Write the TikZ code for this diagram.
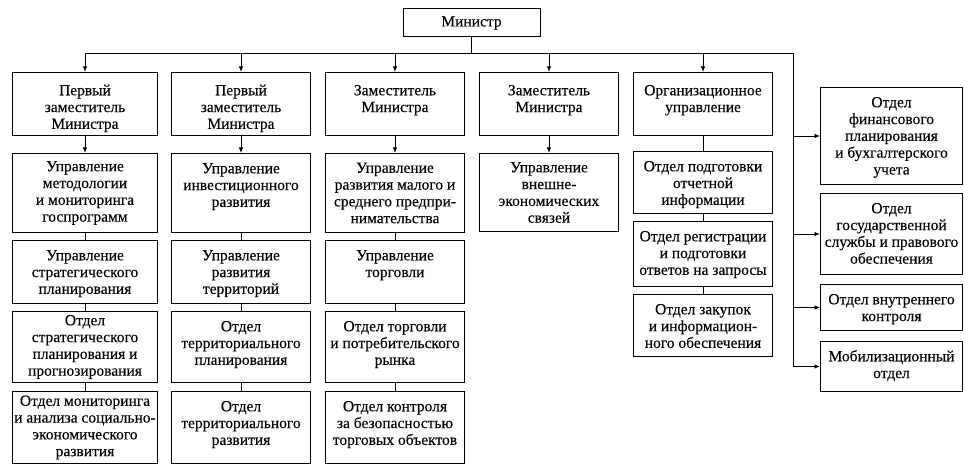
\documentclass[tikz,border=0pt]{standalone}
\usepackage{fontspec}
\setmainfont{Liberation Serif}[FakeBold=0.2]
\usetikzlibrary{arrows.meta,positioning}
\newcommand{\headbox}[2][139pt]{\parbox[c][63pt][t]{#1}{\centering\vspace*{11pt}\strut#2\par}}
\newcommand{\cellbox}[3][139pt]{\parbox[c][#2][t]{#1}{\centering\vspace*{8pt}\strut#3\par}}
\newcommand{\fullbox}[3][139pt]{\parbox[c][#2][c]{#1}{\centering #3\par}}

\begin{document}
\begin{tikzpicture}[
  x=1pt, y=1pt,
  font=\fontsize{15.5}{16.8}\selectfont,
  unit/.style={draw, line width=1pt, inner sep=0pt},
  boss/.style={draw, line width=1pt, minimum width=137pt, minimum height=28pt, inner sep=0pt},
  link/.style={line width=0.9pt},
  arr/.style={-{Latex[length=5.5pt,width=4.5pt]}, line width=0.9pt},
  node distance=7pt
]
\useasboundingbox (0,0) rectangle (972,-470);

\node[boss] (minister) at (471.5,-23) {Министр};

% deputies
\node[unit, anchor=north west] (first1) at (12,-72) {\headbox[145pt]{Первый\\заместитель\\Министра}};
\node[unit, right=13pt of first1] (first2) {\headbox{Первый\\заместитель\\Министра}};
\node[unit, right=14pt of first2] (deputy3) {\headbox{Заместитель\\Министра}};
\node[unit, right=14pt of deputy3] (deputy4) {\headbox{Заместитель\\Министра}};
\node[unit, right=14pt of deputy4] (org) {\headbox{Организационное\\управление}};

% first column
\node[unit, below=17pt of first1] (metod) {\fullbox[145pt]{79pt}{Управление\\методологии\\и мониторинга\\госпрограмм}};
\node[unit, below=of metod] (strat) {\cellbox[145pt]{63pt}{Управление\\стратегического\\планирования}};
\node[unit, below=of strat] (stratplan) {\fullbox[145pt]{71pt}{Отдел\\стратегического\\планирования и\\прогнозирования}};
\node[unit, below=8pt of stratplan] (monitor) {\fullbox[145pt]{72pt}{Отдел мониторинга\\и анализа социально-\\экономического\\развития}};

% second column
\node[unit, below=17pt of first2] (invest) {\cellbox{79pt}{Управление\\инвестиционного\\развития}};
\node[unit, below=of invest] (terr) {\cellbox{63pt}{Управление\\развития\\территорий}};
\node[unit, below=of terr] (terrplan) {\cellbox{71pt}{Отдел\\территориального\\планирования}};
\node[unit, below=8pt of terrplan] (terrdev) {\cellbox{72pt}{Отдел\\территориального\\развития}};

% third column
\node[unit, below=17pt of deputy3] (smallbiz) {\fullbox{79pt}{Управление\\развития малого и\\среднего предпри-\\нимательства}};
\node[unit, below=of smallbiz] (trade) {\cellbox{63pt}{Управление\\торговли}};
\node[unit, below=of trade] (market) {\cellbox{71pt}{Отдел торговли\\и потребительского\\рынка}};
\node[unit, below=8pt of market] (safety) {\cellbox{72pt}{Отдел контроля\\за безопасностью\\торговых объектов}};

% fourth column
\node[unit, below=17pt of deputy4] (foreign) {\fullbox{78pt}{Управление\\внешне-\\экономических\\связей}};

% fifth column
\node[unit, below=15pt of org] (report) {\cellbox{62pt}{Отдел подготовки\\отчетной\\информации}};
\node[unit, below=of report] (registry) {\cellbox{65pt}{Отдел регистрации\\и подготовки\\ответов на запросы}};
\node[unit, below=of registry] (procure) {\cellbox{62pt}{Отдел закупок\\и информацион-\\ного обеспечения}};

% right column
\node[unit, anchor=north west] (finance) at (820,-87) {\cellbox[142pt]{97pt}{Отдел\\финансового\\планирования\\и бухгалтерского\\учета}};
\node[unit, below=8pt of finance] (civil) {\cellbox[142pt]{81pt}{Отдел\\государственной\\службы и правового\\обеспечения}};
\node[unit, below=9pt of civil] (control) {\cellbox[142pt]{46pt}{Отдел внутреннего\\контроля}};
\node[unit, below=10pt of control] (mobil) {\cellbox[142pt]{50pt}{Мобилизационный\\отдел}};

\path (minister.south) ++(0,-16pt) coordinate (bus);
\path (finance.west) ++(-27pt,0) coordinate (spine);

\draw[link] (minister) -- (bus);
\draw[link] (bus -| first1) -- (bus -| spine);
\draw[arr] (bus -| first1) -- (first1);
\draw[arr] (bus -| first2) -- (first2);
\draw[arr] (bus -| deputy3) -- (deputy3);
\draw[arr] (bus -| deputy4) -- (deputy4);
\draw[arr] (bus -| org) -- (org);

\draw[arr] (bus -| spine) |- (mobil);
\draw[arr] (spine |- finance) -- (finance);
\draw[arr] (spine |- civil) -- (civil);
\draw[arr] (spine |- control) -- (control);

\draw[arr] (first1) -- (metod);
\draw[link] (metod) -- (strat);
\draw[link] (strat) -- (stratplan);
\draw[link] (stratplan) -- (monitor);

\draw[arr] (first2) -- (invest);
\draw[link] (invest) -- (terr);
\draw[link] (terr) -- (terrplan);
\draw[link] (terrplan) -- (terrdev);

\draw[arr] (deputy3) -- (smallbiz);
\draw[link] (smallbiz) -- (trade);
\draw[link] (trade) -- (market);
\draw[link] (market) -- (safety);

\draw[arr] (deputy4) -- (foreign);

\draw[link] (org) -- (report);
\draw[link] (report) -- (registry);
\draw[link] (registry) -- (procure);

\end{tikzpicture}
\end{document}
